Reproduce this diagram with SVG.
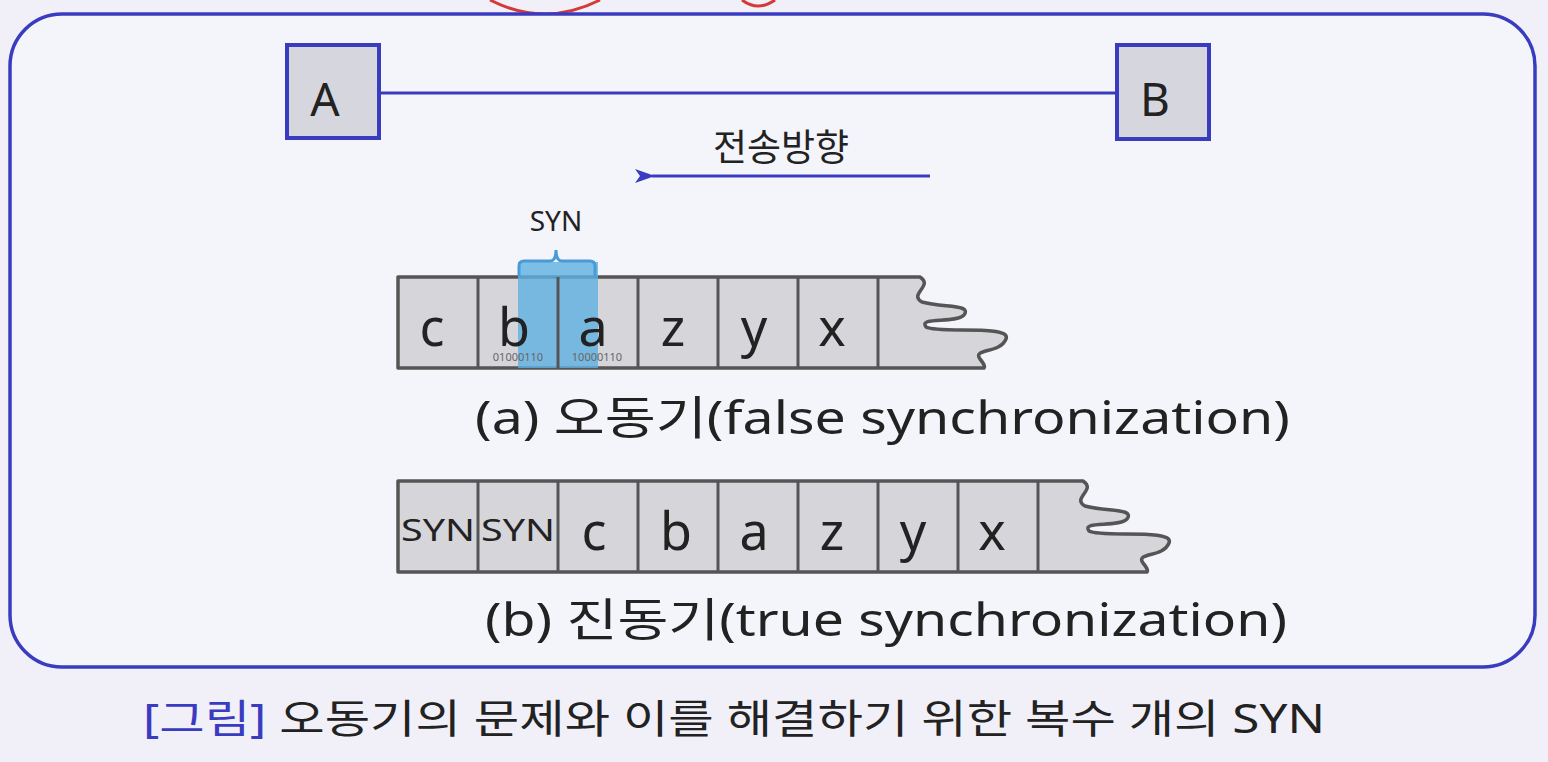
<svg xmlns="http://www.w3.org/2000/svg" width="1548" height="762" viewBox="0 0 1548 762">
<style>
.bg{fill:#f1f0f9}
.frame{fill:#f4f4fb;stroke:#3a3cc0;stroke-width:3.5}
.node{fill:#d6d6de;stroke:#3a3cc0;stroke-width:4}
.link{stroke:#3a3cc0;stroke-width:3;fill:none}
.tape{fill:#d5d5da;stroke:#555;stroke-width:3.5;stroke-linejoin:round}
.div{stroke:#555;stroke-width:3}
.t{font-family:"Noto Sans","Noto Sans CJK KR",sans-serif;fill:#222}
.big{font-size:52px;text-anchor:middle}
.lbl{font-size:46px}
.small{font-size:11px;fill:#666;text-anchor:middle}
.red{stroke:#d43a3a;stroke-width:3;fill:none}
</style>
<defs>
<marker id="ah" markerWidth="20" markerHeight="16" refX="3" refY="8" orient="auto" markerUnits="userSpaceOnUse" viewBox="0 0 20 16">
<path d="M20,1 L0,8 L20,15 L15,8 Z" fill="#3a3cc0"/>
</marker>
</defs>
<rect class="bg" x="0" y="0" width="1548" height="762"/>
<path class="red" d="M490,0 Q545,28 600,0"/>
<path class="red" d="M742,0 Q758,12 775,0"/>
<rect class="frame" x="10" y="14" width="1525" height="653" rx="52" ry="52"/>

<g id="connectors">
<line class="link" x1="380" y1="93" x2="1116" y2="93"/>
<line class="link" x1="930" y1="176" x2="652" y2="176" marker-end="url(#ah)"/>
<text class="t" x="781" y="161" font-size="37" text-anchor="middle" fill="#333">전송방향</text>
</g>

<g id="nodeA">
<rect class="node" x="287" y="45" width="92" height="93"/>
<text class="t" x="325" y="116" font-size="46" text-anchor="middle">A</text>
</g>
<g id="nodeB">
<rect class="node" x="1117" y="45" width="92" height="94"/>
<text class="t" x="1155" y="116" font-size="46" text-anchor="middle">B</text>
</g>

<g id="rowA">
<path class="tape" d="M398,277 L920,277 C934,286 908,294 922,302 C944,308 972,304 964,315 C955,324 918,316 926,327 C938,334 1012,324 1006,339 C1000,354 972,348 980,359 C986,366 984,368 984,368 L398,368 Z"/>
<rect x="518" y="262" width="80" height="106" fill="#5fb0e2" opacity="0.8"/>
<line class="div" x1="478" y1="277" x2="478" y2="368"/>
<line class="div" x1="558" y1="277" x2="558" y2="368"/>
<line class="div" x1="638" y1="277" x2="638" y2="368"/>
<line class="div" x1="718" y1="277" x2="718" y2="368"/>
<line class="div" x1="798" y1="277" x2="798" y2="368"/>
<line class="div" x1="878" y1="277" x2="878" y2="368"/>
<path d="M519,276 L519,266 Q519,261 524,261 L550,261 Q556,261 556,250 Q556,261 562,261 L590,261 Q595,261 595,266 L595,276" fill="none" stroke="#4a9ad8" stroke-width="3"/>
<text class="t" x="556" y="231" font-size="28" text-anchor="middle" fill="#333">SYN</text>
<text class="t big" x="432" y="346">c</text>
<text class="t big" x="514" y="346">b</text>
<text class="t big" x="593" y="346">a</text>
<text class="t big" x="673" y="346">z</text>
<text class="t big" x="754" y="346">y</text>
<text class="t big" x="832" y="346">x</text>
<text class="t small" x="518" y="361">01000110</text>
<text class="t small" x="597" y="361">10000110</text>
<text class="t lbl" x="475" y="434" textLength="815" lengthAdjust="spacingAndGlyphs">(a) 오동기(false synchronization)</text>
</g>

<g id="rowB">
<path class="tape" d="M398,481 L1083,481 C1097,490 1071,498 1085,506 C1107,512 1135,508 1127,519 C1118,528 1081,520 1089,531 C1101,538 1175,528 1169,543 C1163,558 1135,552 1143,563 C1149,570 1147,572 1147,572 L398,572 Z"/>
<line class="div" x1="478" y1="481" x2="478" y2="572"/>
<line class="div" x1="558" y1="481" x2="558" y2="572"/>
<line class="div" x1="638" y1="481" x2="638" y2="572"/>
<line class="div" x1="718" y1="481" x2="718" y2="572"/>
<line class="div" x1="798" y1="481" x2="798" y2="572"/>
<line class="div" x1="878" y1="481" x2="878" y2="572"/>
<line class="div" x1="958" y1="481" x2="958" y2="572"/>
<line class="div" x1="1038" y1="481" x2="1038" y2="572"/>
<text class="t" x="401" y="541" font-size="31" textLength="74" lengthAdjust="spacingAndGlyphs">SYN</text>
<text class="t" x="481" y="541" font-size="31" textLength="74" lengthAdjust="spacingAndGlyphs">SYN</text>
<text class="t big" x="594" y="550">c</text>
<text class="t big" x="676" y="550">b</text>
<text class="t big" x="754" y="550">a</text>
<text class="t big" x="832" y="550">z</text>
<text class="t big" x="913" y="550">y</text>
<text class="t big" x="992" y="550">x</text>
<text class="t lbl" x="485" y="636" textLength="802" lengthAdjust="spacingAndGlyphs">(b) 진동기(true synchronization)</text>
</g>

<text class="t" x="143" y="733" font-size="40" textLength="1182" lengthAdjust="spacingAndGlyphs"><tspan fill="#3a3cc0">[그림]</tspan> 오동기의 문제와 이를 해결하기 위한 복수 개의 SYN</text>
</svg>
